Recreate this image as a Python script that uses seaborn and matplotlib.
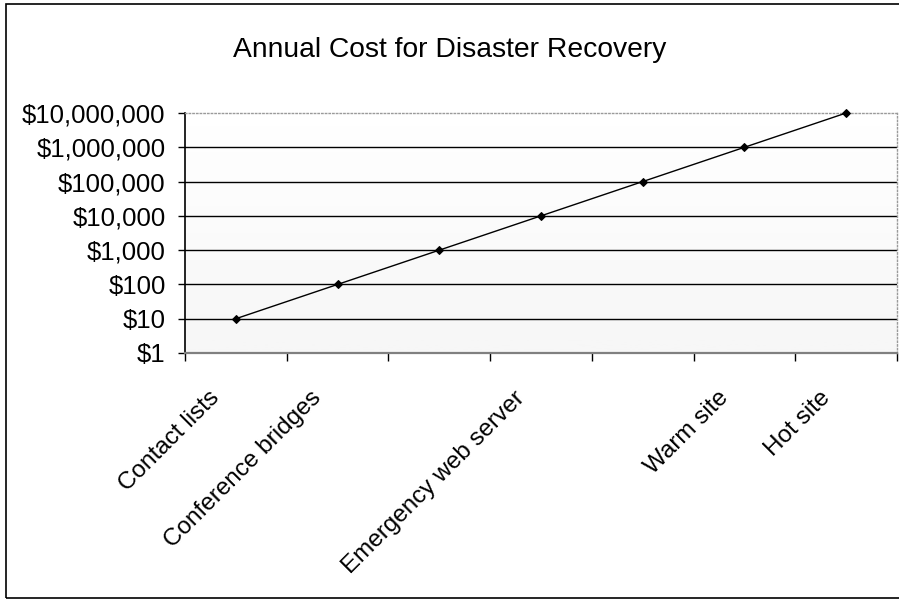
import numpy as np
import matplotlib
matplotlib.use("Agg")
import matplotlib.pyplot as plt
import matplotlib.ticker as mticker
from matplotlib.transforms import ScaledTranslation
from matplotlib.patches import Rectangle
import seaborn as sns

# Recovery options and their yearly cost (USD)
categories = ["Contact lists", "Conference bridges", "", "Emergency web server",
              "", "Warm site", "Hot site"]
costs = [10, 100, 1_000, 10_000, 100_000, 1_000_000, 10_000_000]
y_ticks = [1, 10, 100, 1_000, 10_000, 100_000, 1_000_000, 10_000_000]
title = "Annual Cost for Disaster Recovery"

sns.set_theme(style="white")
plt.rcParams["font.family"] = ["Liberation Sans", "DejaVu Sans"]
plt.rcParams["text.color"] = "black"
plt.rcParams["xtick.color"] = "black"
plt.rcParams["ytick.color"] = "black"

fig = plt.figure(figsize=(8.99, 6.0), dpi=100)
pos = [185 / 899, 1 - 353 / 600, (897 - 185) / 899, (353 - 113) / 600]

# stippled plot-area shading, heavier toward the bottom
bg = fig.add_axes(pos, zorder=0)
grad = np.linspace(0.07, 0.0, 256).reshape(-1, 1)
bg.imshow(grad, extent=(0, 1, 0, 1), origin="lower", aspect="auto",
          cmap="Greys", vmin=0, vmax=1)
bg.set_axis_off()

ax = fig.add_axes(pos, zorder=1)
ax.patch.set_alpha(0)

x = np.arange(len(categories))
sns.lineplot(x=x, y=costs, ax=ax, color="black", lw=1.0, marker="D",
             markersize=4.5, markeredgecolor="black", markerfacecolor="black",
             clip_on=False, zorder=3)

ax.set_yscale("log")
ax.set_ylim(1, 10_000_000)
ax.set_xlim(-0.5, len(categories) - 0.5)
ax.yaxis.set_major_locator(mticker.FixedLocator(y_ticks))
ax.yaxis.set_minor_locator(mticker.NullLocator())
ax.yaxis.set_major_formatter(mticker.FuncFormatter(lambda v, _: f"${v:,.0f}"))

# horizontal gridlines at each decade
for v in y_ticks[1:-1]:
    ax.axhline(v, color="black", lw=1.0, zorder=1)

ax.set_xticks(x)
ax.set_xticklabels(categories, rotation=45, ha="right", va="center",
                   rotation_mode="anchor")
ax.set_xticks(np.arange(len(categories) + 1) - 0.5, minor=True)
ax.tick_params(axis="x", which="major", length=0, pad=30, labelsize=17.5)
ax.tick_params(axis="x", which="minor", length=6, width=1, color="black",
               direction="out", bottom=True)
ax.tick_params(axis="y", which="major", length=5, width=1, color="black",
               direction="out", left=True, pad=9, labelsize=18.5)
offset = ScaledTranslation(-14 / 72, 0, fig.dpi_scale_trans)
for lab in ax.get_xticklabels():
    lab.set_transform(lab.get_transform() + offset)

ax.set_xlabel("")
ax.set_ylabel("")

for side in ("top", "right"):
    ax.spines[side].set_visible(True)
    ax.spines[side].set_color("#9a9a9a")
    ax.spines[side].set_linestyle(":")
    ax.spines[side].set_linewidth(1.0)
ax.spines["left"].set_color("black")
ax.spines["left"].set_linewidth(1.2)
ax.spines["bottom"].set_color("#808080")
ax.spines["bottom"].set_linewidth(1.6)

fig.text(0.5, 1 - 57 / 600, title, ha="center", va="baseline", fontsize=20.3)

# chart border
fig.patches.append(Rectangle((6 / 899, 2 / 600), 1.2, 1 - 6 / 600, transform=fig.transFigure,
                             fill=False, edgecolor="black", lw=1.2))

fig.savefig("out.png", dpi=100)
